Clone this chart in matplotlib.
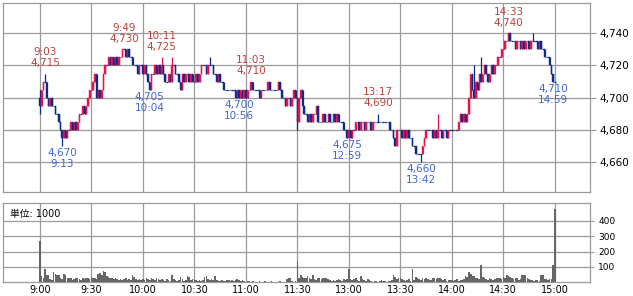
import matplotlib
matplotlib.use("Agg")
import matplotlib.pyplot as plt
from matplotlib.ticker import FuncFormatter

# ---- data (minute index: 0 = 9:00, 150 = 12:30 after lunch break) ----
close_am = [
    4695, 4705, 4710, 4710, 4700, 4695, 4700, 4695, 4695, 4690,
    4690, 4685, 4680, 4675, 4680, 4675, 4680, 4680, 4685, 4680,
    4685, 4680, 4685, 4690, 4690, 4695, 4690, 4695, 4700, 4705,
    4705, 4710, 4715, 4700, 4705, 4700, 4705, 4715, 4720, 4720,
    4725, 4720, 4725, 4720, 4725, 4720, 4725, 4725, 4730, 4730,
    4725, 4730, 4725, 4725, 4720, 4720, 4720, 4715, 4720, 4720,
    4715, 4720, 4715, 4710, 4705, 4715, 4715, 4720, 4715, 4720,
    4715, 4720, 4715, 4710, 4710, 4715, 4710, 4720, 4720, 4715,
    4715, 4710, 4705, 4715, 4710, 4715, 4715, 4710, 4715, 4710,
    4710, 4715, 4710, 4715, 4720, 4720, 4720, 4715, 4720, 4720,
    4720, 4715, 4715, 4710, 4715, 4710, 4710, 4705, 4705, 4705,
    4705, 4705, 4705, 4705, 4700, 4705, 4700, 4705, 4700, 4705,
    4700, 4705, 4705, 4710, 4705, 4705, 4705, 4705, 4700, 4705,
    4705, 4705, 4705, 4710, 4705, 4705, 4705, 4705, 4705, 4710,
    4705, 4700, 4700, 4695, 4700, 4700, 4695, 4700, 4705, 4700,
]
close_pm = [
    4685, 4700, 4705, 4695, 4690, 4690, 4685, 4690, 4685, 4690,
    4690, 4695, 4685, 4685, 4685, 4690, 4685, 4685, 4690, 4685,
    4685, 4690, 4685, 4690, 4685, 4685, 4685, 4680, 4680, 4675,
    4680, 4675, 4680, 4680, 4685, 4685, 4680, 4685, 4685, 4680,
    4685, 4685, 4685, 4680, 4685, 4685, 4685, 4685, 4685, 4685,
    4685, 4685, 4685, 4685, 4680, 4680, 4675, 4670, 4680, 4680,
    4680, 4675, 4680, 4675, 4680, 4675, 4675, 4670, 4670, 4665,
    4665, 4665, 4665, 4670, 4675, 4680, 4680, 4680, 4680, 4675,
    4680, 4675, 4680, 4680, 4675, 4680, 4680, 4675, 4680, 4680,
    4680, 4680, 4680, 4680, 4685, 4690, 4685, 4690, 4685, 4690,
    4700, 4715, 4705, 4700, 4710, 4705, 4715, 4710, 4715, 4720,
    4715, 4710, 4715, 4720, 4715, 4720, 4720, 4725, 4725, 4730,
    4730, 4735, 4735, 4740, 4735, 4735, 4735, 4730, 4735, 4735,
    4730, 4735, 4730, 4735, 4735, 4730, 4735, 4735, 4735, 4735,
    4730, 4735, 4730, 4730, 4725, 4725, 4725, 4720, 4715, 4710,
    4710,
]
first_open = 4700
high_wicks = {0: 4705, 3: 4715, 33: 4715, 71: 4725, 77: 4725, 99: 4725,
              123: 4710, 133: 4710, 150: 4695, 161: 4695, 197: 4690,
              232: 4690, 246: 4690, 253: 4720, 257: 4725, 287: 4740}
low_wicks = {0: 4690, 13: 4670, 116: 4700, 143: 4695, 150: 4680,
             179: 4675, 207: 4670, 222: 4660, 231: 4675}

vol_am = [
    270, 40, 30, 85, 50, 45, 20, 15, 65, 55,
    45, 50, 30, 20, 55, 45, 30, 25, 25, 15,
    20, 25, 30, 20, 15, 25, 20, 30, 25, 20,
    35, 25, 30, 20, 55, 60, 45, 75, 65, 40,
    35, 30, 25, 20, 25, 20, 15, 20, 15, 20,
    25, 15, 20, 15, 50, 35, 20, 15, 20, 15,
    20, 15, 25, 20, 15, 25, 20, 15, 25, 20,
    15, 20, 15, 10, 20, 15, 10, 45, 20, 15,
    10, 15, 35, 20, 10, 15, 40, 35, 15, 20,
    20, 15, 10, 15, 10, 15, 35, 40, 20, 15,
    20, 15, 40, 15, 10, 10, 15, 10, 10, 15,
    15, 10, 15, 10, 15, 20, 15, 10, 15, 10,
    5, 10, 8, 5, 10, 5, 5, 5, 10, 5,
    5, 10, 5, 5, 5, 10, 5, 5, 5, 5,
    10, 5, 5, 5, 20, 30, 25, 10, 5, 10,
]
vol_pm = [
    140, 30, 45, 35, 25, 30, 40, 25, 20, 45,
    20, 15, 25, 30, 20, 25, 30, 25, 20, 15,
    10, 15, 10, 15, 20, 15, 10, 20, 15, 20,
    85, 20, 15, 20, 25, 15, 10, 40, 20, 15,
    10, 20, 15, 10, 5, 10, 10, 5, 10, 15,
    10, 10, 5, 10, 10, 15, 50, 35, 20, 30,
    25, 20, 15, 10, 15, 20, 10, 85, 15, 35,
    25, 20, 15, 25, 20, 25, 20, 15, 15, 30,
    25, 20, 30, 25, 20, 15, 20, 10, 15, 15,
    15, 10, 15, 20, 10, 15, 15, 20, 40, 35,
    65, 55, 40, 40, 30, 25, 20, 115, 35, 30,
    20, 15, 25, 20, 15, 20, 25, 30, 30, 20,
    35, 30, 45, 40, 35, 30, 20, 25, 25, 15,
    20, 50, 45, 45, 30, 20, 15, 15, 10, 15,
    15, 10, 50, 45, 20, 20, 15, 20, 20, 110,
    475,
]

tick_pos = [0, 30, 60, 90, 120, 150, 180, 210, 240, 270, 300]
tick_labels = ['9:00', '9:30', '10:00', '10:30', '11:00', '11:30',
               '13:00', '13:30', '14:00', '14:30', '15:00']

hi_marks = [(3, 4715, '9:03'), (49, 4730, '9:49'), (71, 4725, '10:11'),
            (123, 4710, '11:03'), (197, 4690, '13:17'), (273, 4740, '14:33')]
lo_marks = [(13, 4670, '9:13'), (64, 4705, '10:04'), (116, 4700, '10:56'),
            (179, 4675, '12:59'), (222, 4660, '13:42'), (299, 4710, '14:59')]

# ---- build OHLC ----
closes = close_am + close_pm
n = len(closes)
opens = [first_open] + closes[:-1]
highs = [max(o, c, high_wicks.get(i, 0)) for i, (o, c) in enumerate(zip(opens, closes))]
lows = [min(o, c, low_wicks.get(i, 99999)) for i, (o, c) in enumerate(zip(opens, closes))]
vols = vol_am + vol_pm
xs = list(range(n))
xv = list(range(len(vols)))

RED = '#e8134a'
BLUE = '#0b2b8c'
GRID = '#9a9a9a'

fig = plt.figure(figsize=(6.33, 2.96), dpi=100)
ax = fig.add_axes([3/633, 104/296, 587/633, 189/296])
axv = fig.add_axes([3/633, 13.7/296, 587/633, 79.3/296])

w = 0.85
for i in xs:
    o, c, h, l = opens[i], closes[i], highs[i], lows[i]
    col = RED if c > o else BLUE
    ax.vlines(i, l, h, color=col, lw=0.9, zorder=3)
    if c == o:
        ax.hlines(c, i - w/2, i + w/2, color=col, lw=0.9, zorder=3)
    else:
        ax.bar(i, abs(c - o), bottom=min(o, c), width=w, color=col,
               edgecolor=col, lw=0.3, zorder=3)

ax.set_xlim(-21.5, 320.5)
ax.set_ylim(4641.4, 4758.8)
ax.set_yticks([4660, 4680, 4700, 4720, 4740])
ax.yaxis.set_major_formatter(FuncFormatter(lambda v, p: f'{v:,.0f}'))
ax.set_xticks(tick_pos)
ax.set_xticklabels([])
ax.tick_params(axis='x', length=0)
ax.yaxis.tick_right()
ax.tick_params(axis='y', length=4, width=0.8, color=GRID, pad=3, labelsize=7.5)
ax.grid(True, color=GRID, lw=0.9)
ax.set_axisbelow(True)
for s in ax.spines.values():
    s.set_color(GRID)
    s.set_linewidth(0.9)

for i, p, t in hi_marks:
    ax.annotate(f'{t}\n{p:,}', (i, p), xytext=(0, 4), textcoords='offset points',
                ha='center', va='bottom', fontsize=7.5, color='#c0403c',
                linespacing=1.15, zorder=5)
for i, p, t in lo_marks:
    ax.annotate(f'{p:,}\n{t}', (i, p), xytext=(0, -1.5), textcoords='offset points',
                ha='center', va='top', fontsize=7.5, color='#3f66d6',
                linespacing=1.15, zorder=5)

axv.bar(xv, vols, width=0.95, color='#666666', lw=0, zorder=3)
axv.set_xlim(-21.5, 320.5)
axv.set_ylim(0, 515)
axv.set_yticks([100, 200, 300, 400])
axv.yaxis.tick_right()
axv.tick_params(axis='y', length=3, width=0.8, color=GRID, pad=3, labelsize=6.5)
axv.set_xticks(tick_pos)
axv.set_xticklabels(tick_labels)
axv.tick_params(axis='x', length=0, pad=2, labelsize=7)
axv.grid(True, color=GRID, lw=0.9)
axv.set_axisbelow(True)
for s in axv.spines.values():
    s.set_color(GRID)
    s.set_linewidth(0.9)
axv.text(0.012, 0.93, '単位: 1000', transform=axv.transAxes, ha='left', va='top',
         fontsize=7, family=['DejaVu Sans', 'Noto Sans CJK JP'])

fig.savefig('out.png', dpi=100, facecolor='white')
